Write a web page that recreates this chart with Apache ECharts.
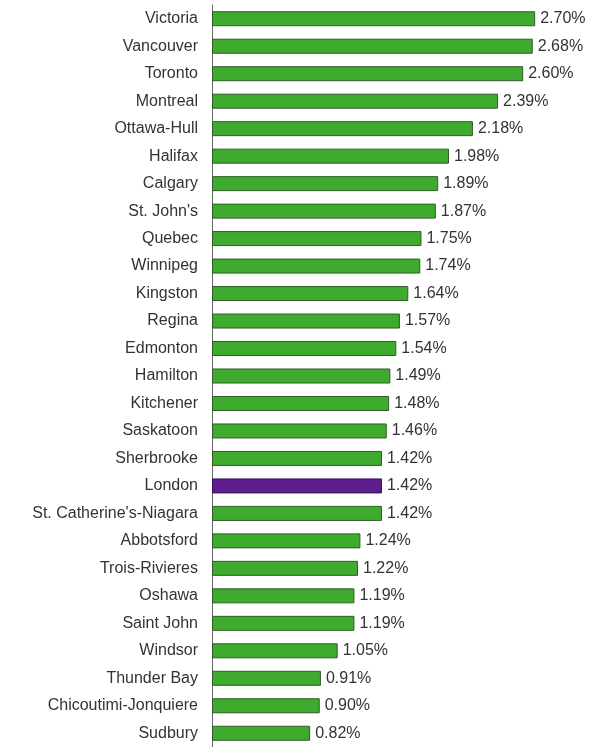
<!DOCTYPE html>
<html><head><meta charset="utf-8">
<script src="https://cdn.jsdelivr.net/npm/echarts@6/dist/echarts.min.js"></script>
<style>html,body{margin:0;padding:0;background:#fff}#c{width:602px;height:747px}</style>
</head><body><div id="c"></div>
<script>
const cities = ["Victoria","Vancouver","Toronto","Montreal","Ottawa-Hull","Halifax","Calgary","St. John's","Quebec","Winnipeg","Kingston","Regina","Edmonton","Hamilton","Kitchener","Saskatoon","Sherbrooke","London","St. Catherine's-Niagara","Abbotsford","Trois-Rivieres","Oshawa","Saint John","Windsor","Thunder Bay","Chicoutimi-Jonquiere","Sudbury"];
const rates = [2.70,2.68,2.60,2.39,2.18,1.98,1.89,1.87,1.75,1.74,1.64,1.57,1.54,1.49,1.48,1.46,1.42,1.42,1.42,1.24,1.22,1.19,1.19,1.05,0.91,0.90,0.82];
const highlight = "London";
const green = "#3eaa2e", purple = "#5d1d8c";
const chart = echarts.init(document.getElementById('c'));
chart.setOption({
  animation:false,
  grid:{left:212, top:5, height:745, width:383},
  xAxis:{type:'value', min:0, max:3.2, show:false},
  yAxis:{type:'category', data:cities, inverse:true,
    axisLine:{show:true, lineStyle:{color:'#666', width:1}},
    axisTick:{show:false},
    axisLabel:{margin:14, fontFamily:'Liberation Sans', fontSize:16, color:'#333'}},
  series:[{type:'bar', barWidth:15,
    data: rates.map((v,i)=>({value:v, itemStyle:{color: cities[i]===highlight?purple:green, borderColor: cities[i]===highlight?'#3c1060':'#2f5e25', borderWidth:1}})),
    label:{show:true, position:'right', distance:5, formatter:p=>p.value.toFixed(2)+'%', fontFamily:'Liberation Sans', fontSize:16, color:'#333'}
  }]
});
</script></body></html>
